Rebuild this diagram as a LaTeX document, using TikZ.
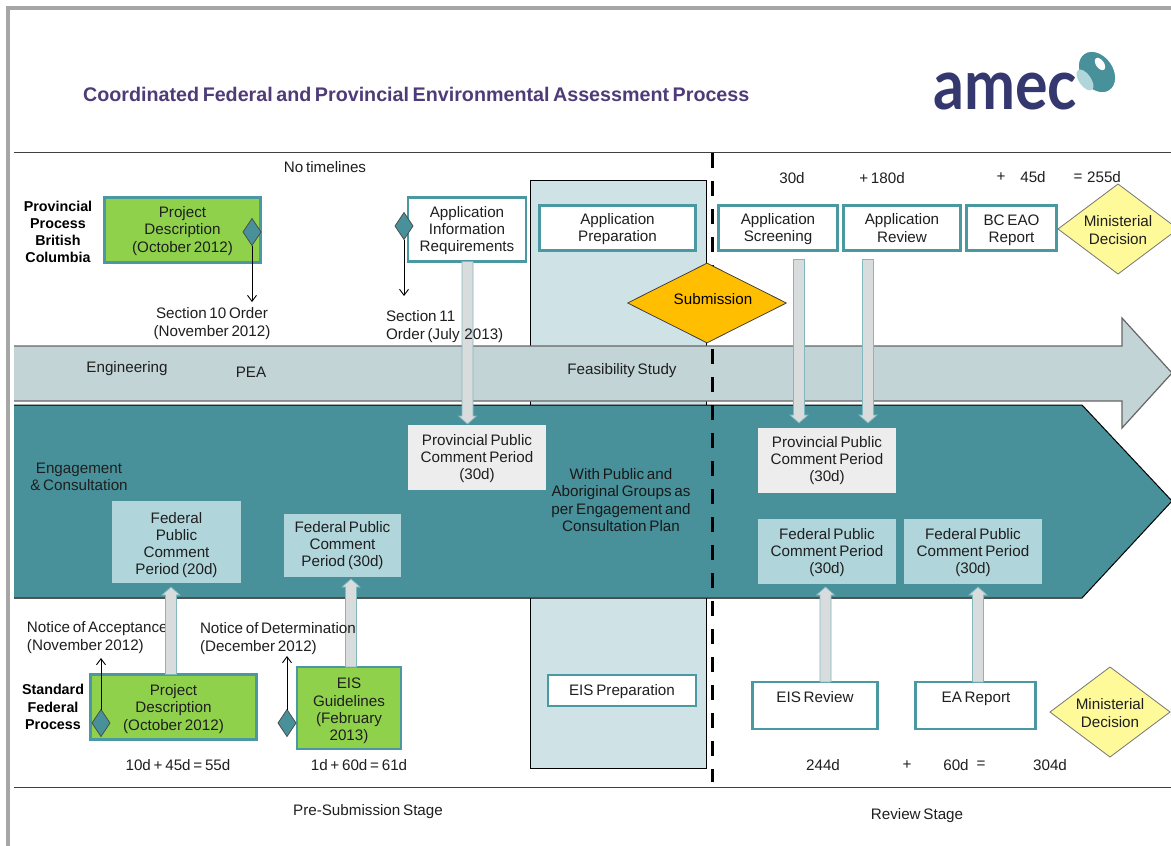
\documentclass[tikz,border=0pt]{standalone}
\usepackage{fontspec}
\setmainfont[WordSpace=0.65]{Liberation Sans}
\newfontfamily\logofont{Lato}
\usetikzlibrary{shapes.geometric,calc,arrows.meta}
\definecolor{edgeteal}{HTML}{4A99A2}
\definecolor{darkteal}{HTML}{48919A}
\definecolor{paleblue}{HTML}{CFE3E6}
\definecolor{enggrey}{HTML}{C2D4D6}
\definecolor{fedblue}{HTML}{B0D5DB}
\definecolor{provgrey}{HTML}{EDEDED}
\definecolor{leaf}{HTML}{8FD14B}
\definecolor{titlepurple}{HTML}{4F3B78}
\definecolor{logoblue}{HTML}{34386F}
\definecolor{textdark}{HTML}{1F1F1F}
\definecolor{blockgrey}{HTML}{D9DCDC}
\definecolor{framegrey}{HTML}{A6A6A6}
\tikzset{
  txt/.style={font=\fontsize{15.2}{17.2}\selectfont,text=textdark,align=center,inner sep=0pt,outer sep=0pt},
  boldtxt/.style={txt,font=\fontsize{14.3}{17.2}\bfseries\selectfont,text=black},
  lbl/.style 2 args={label={[txt,yshift=-#1pt]center:{#2}}},
  whitebox/.style={txt,draw=edgeteal,line width=2.4pt,fill=white},
  greenbox/.style={txt,draw=edgeteal,line width=2.4pt,fill=leaf},
  fedbox/.style={txt,fill=fedblue},
  provbox/.style={txt,fill=provgrey},
  milestone/.style={diamond,draw=black!70,line width=0.8pt,fill=darkteal,minimum width=18pt,minimum height=27pt,inner sep=0pt,outer sep=0pt},
  decision/.style={diamond,txt,draw=black!55,line width=0.8pt,fill=yellow!40!white,minimum width=120pt,minimum height=90pt,aspect=1.3},
  thinarrow/.style={draw=black,line width=0.9pt,-{Straight Barb[length=6pt,width=9pt]}},
  block/.style={draw=edgeteal!70,line width=0.7pt,fill=blockgrey},
}
% \blockarrow{from point}{to point}{sign: 1 pointing down, -1 pointing up}
\newcommand{\blockarrow}[3]{%
  \draw[block] ($(#1)+(-5.5,0)$) -- ($(#2)+(-5.5,{-8*#3})$) -- ($(#2)+(-9,{-8*#3})$) -- (#2)
     -- ($(#2)+(9,{-8*#3})$) -- ($(#2)+(5.5,{-8*#3})$) -- ($(#1)+(5.5,0)$) -- cycle;}
\begin{document}
\begin{tikzpicture}[x=1pt,y=-1pt]
\useasboundingbox (0,0) rectangle (1171,846);
\clip (0,0) rectangle (1171,846);
\fill[white] (0,0) rectangle (1171,846);
% frame
\fill[framegrey] (6,6) rectangle (1171,9.5);
\fill[framegrey] (6,6) rectangle (10,846);
\draw[black!75,line width=1pt] (14,152) -- (1171,152);
\draw[black!75,line width=1pt] (14,787) -- (1171,787);
% title & logo
\node[anchor=west,inner sep=0pt,font=\fontsize{19.7}{22}\bfseries\selectfont,text=titlepurple] (title) at (83,94) {Coordinated Federal and Provincial Environmental Assessment Process};
\node[anchor=base west,inner sep=0pt,font=\logofont\bfseries\fontsize{70}{70}\selectfont,text=logoblue,xscale=0.87,transform shape] (logo) at (933,109) {amec};
\draw[white,line width=2pt,fill=darkteal,rotate around={35:(1097,72)}] (1097,72) ellipse [x radius=17,y radius=23];
\fill[fedblue,rotate around={35:(1085,80)}] (1085,80) ellipse [x radius=6,y radius=12];
\fill[white,rotate around={35:(1100,64)}] (1100,64) ellipse [x radius=4,y radius=7];
% backgrounds
\draw[black,line width=0.9pt,fill=paleblue] (530,180) rectangle (706,768);
\draw[black!60,line width=1.2pt,fill=enggrey] (14,346) -- (1122,346) -- (1122,318) -- (1172,373) -- (1122,428) -- (1122,401) -- (14,401);
\fill[white] (14,402) rectangle (530,404);
\draw[black,line width=1pt,fill=darkteal] (14,405) -- (1082,405) -- (1172,501) -- (1082,598) -- (14,598);
\draw[black,line width=3pt,dash pattern=on 15pt off 13pt] (712,153) -- (712,782);
% provincial row
\node[boldtxt] (provlabel) at (58,232) {Provincial\\Process\\British\\Columbia};
\node[greenbox,lbl={1}{Project\\Description\\(October 2012)},minimum width=156pt,minimum height=65pt] (pd1) at (182.5,230) {};
\node[milestone] (m1) at (252,232) {};
\node[txt] (s10) at (212,323.5) {Section 10 Order\\(November 2012)};
\node[txt] (nt) at (325,167) {No timelines};
\node[whitebox,lbl={1}{Application\\Information\\Requirements},minimum width=118pt,minimum height=64pt] (air) at (467,229.5) {};
\node[milestone] (m2) at (404,226) {};
\node[whitebox,lbl={1}{Application\\Preparation},minimum width=156pt,minimum height=45pt] (prep) at (617.5,228) {};
\node[whitebox,lbl={1}{Application\\Screening},minimum width=119pt,minimum height=45pt] (screen) at (778,228) {};
\node[whitebox,minimum width=117pt,minimum height=45pt] (review) at (902,228) {Application\\Review};
\node[whitebox,lbl={2}{BC EAO\\Report},minimum width=90pt,minimum height=45pt] (bceao) at (1011.5,228) {};
\node[decision,lbl={1}{Ministerial\\Decision}] (dec1) at (1118,229) {};
\node[diamond,draw=black!75,line width=0.8pt,fill=orange!50!yellow,minimum width=159pt,minimum height=80pt,inner sep=0pt,aspect=2] (sub) at (707,303) {};
\node[txt,text=black] (subt) at (713,299) {Submission};
\node[txt] (d30) at (792,178) {30d};
\node[txt] (d180) at (882,178) {+ 180d};
\node[txt] (pl45) at (1001,177) {+};
\node[txt] (d45) at (1033,177) {45d};
\node[txt] (eq255) at (1078,178) {=};
\node[txt] (d255) at (1104,177) {255d};
% bands
\node[txt] (eng) at (127,369) {Engineering};
\node[txt] (pea) at (251,372) {PEA};
\node[txt] (feas) at (622,371) {Feasibility Study};
\node[txt] (engage) at (79,476.5) {Engagement\\\& Consultation};
\node[provbox,lbl={1}{Provincial Public\\Comment Period\\(30d)},minimum width=138pt,minimum height=65pt] (ppc1) at (477,457.5) {};
\node[provbox,minimum width=138pt,minimum height=65pt] (ppc2) at (827,460.5) {Provincial Public\\Comment Period\\(30d)};
\node[fedbox,lbl={3}{Federal\\Public\\Comment\\Period (20d)},minimum width=129pt,minimum height=82pt] (fed1) at (176.5,542) {};
\node[fedbox,minimum width=117pt,minimum height=63pt] (fed2) at (342.5,545.5) {Federal Public\\Comment\\Period (30d)};
\node[fedbox,lbl={1}{Federal Public\\Comment Period\\(30d)},minimum width=138pt,minimum height=65pt] (fed3) at (827,551.5) {};
\node[fedbox,lbl={1}{Federal Public\\Comment Period\\(30d)},minimum width=138pt,minimum height=65pt] (fed4) at (973,551.5) {};
\node[txt,text=black!90] (withpub) at (621,500) {With Public and\\Aboriginal Groups as\\per Engagement and\\Consultation Plan};
% federal row
\node[txt,align=left,anchor=west] (noa) at (27,637.5) {Notice of Acceptance\\(November 2012)};
\node[boldtxt] (fedlabel) at (53,707) {Standard\\Federal\\Process};
\node[greenbox,lbl={2}{Project\\Description\\(October 2012)},minimum width=166pt,minimum height=65pt] (pd2) at (173.5,707) {};
\node[milestone] (m3) at (101,723) {};
\node[greenbox,lbl={3}{EIS\\Guidelines\\(February\\2013)},minimum width=104pt,minimum height=82pt] (eis) at (349,708) {};
\node[milestone] (m4) at (287,723) {};
\node[whitebox,lbl={1}{EIS Preparation},minimum width=148pt,minimum height=31pt] (eisprep) at (622,690.5) {};
\node[whitebox,minimum width=125pt,minimum height=47pt] (eisrev) at (815,705.5) {};
\node[txt] (eisrevt) at (815,697) {EIS Review};
\node[whitebox,minimum width=120pt,minimum height=47pt] (eareport) at (975.5,705.5) {};
\node[txt] (eareportt) at (976,699) {EA Report};
\node[decision,lbl={1}{Ministerial\\Decision}] (dec2) at (1110,712) {};
\node[txt] (sum1) at (178,765) {10d + 45d = 55d};
\node[txt] (sum2) at (359,765) {1d + 60d = 61d};
\node[txt] (d244) at (823,765) {244d};
\node[txt] (pl60) at (907,765) {+};
\node[txt] (d60) at (956,765) {60d};
\node[txt] (eq304) at (981,765) {=};
\node[txt] (d304) at (1050,765) {304d};
\node[txt] (presub) at (368,812) {Pre-Submission Stage};
\node[txt] (revstage) at (917,816) {Review Stage};
% thin connectors
\coordinate (s10top) at (252,302);
\coordinate (s11top) at (404,296);
\coordinate (noatop) at (101,658);
\coordinate (nodtop) at (287,656);
\draw[thinarrow] (m1.south) -- (s10top);
\draw[thinarrow] (m2.south) -- (s11top);
\draw[thinarrow] (m3.north) -- (noatop);
\draw[thinarrow] (m4.north) -- (nodtop);
% block connectors
\coordinate (xa) at (467.5,0);
\coordinate (xb) at (799,0);
\coordinate (xc) at (868,0);
\coordinate (xd) at (171,0);
\coordinate (xe) at (351,0);
\coordinate (xf) at (825.5,0);
\coordinate (xg) at (978,0);
\blockarrow{air.south -| xa}{$(ppc1.north -| xa)+(0,-1)$}{1}
\blockarrow{$(screen.south -| xb)+(0,9)$}{$(ppc2.north -| xb)+(0,-5)$}{1}
\blockarrow{$(review.south -| xc)+(0,9)$}{$(ppc2.north -| xc)+(0,-5)$}{1}
\blockarrow{pd2.north -| xd}{$(fed1.south -| xd)+(0,4)$}{-1}
\blockarrow{eis.north -| xe}{$(fed2.south -| xe)+(0,2)$}{-1}
\blockarrow{eisrev.north -| xf}{$(fed3.south -| xf)+(0,3)$}{-1}
\blockarrow{eareport.north -| xg}{$(fed4.south -| xg)+(0,3)$}{-1}
% labels that lie over the block connectors
\node[txt,align=left,anchor=west] (s11) at (386,326.5) {Section 11\\Order (July\hspace{2pt} 2013)};
\node[txt,align=left,anchor=west] (nod) at (200,638.5) {Notice of Determination\\(December 2012)};
\end{tikzpicture}
\end{document}
